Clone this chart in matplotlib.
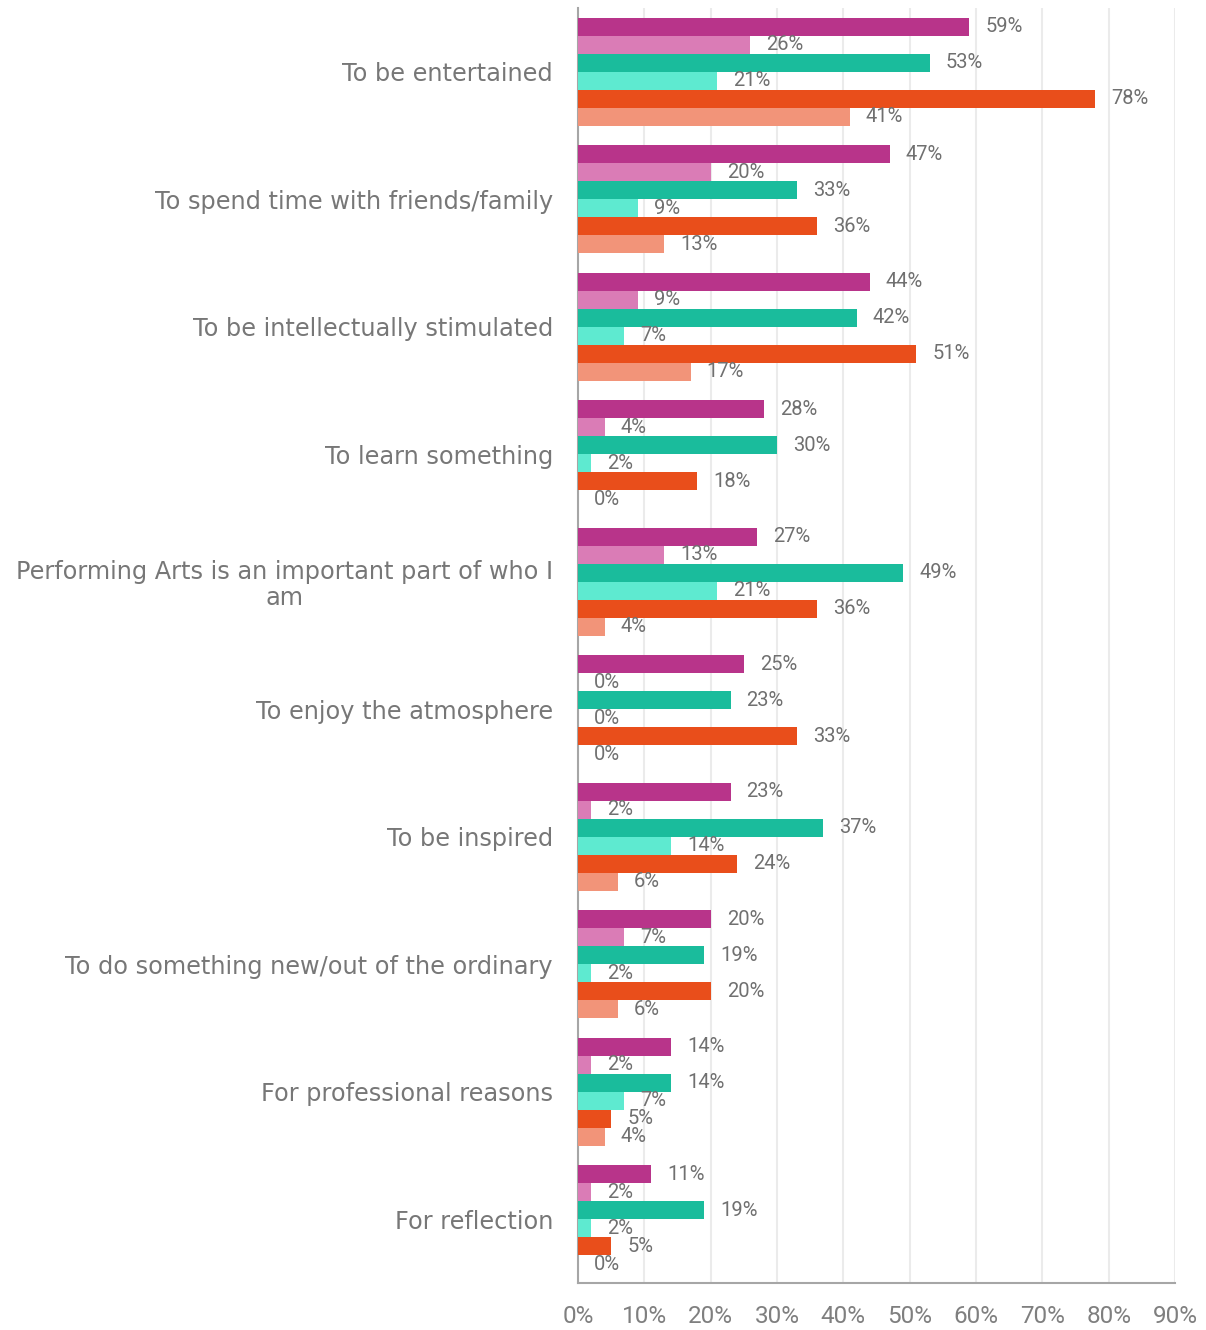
import matplotlib
matplotlib.use("Agg")
import matplotlib.pyplot as plt
import numpy as np

categories = [
    "To be entertained",
    "To spend time with friends/family",
    "To be intellectually stimulated",
    "To learn something",
    "Performing Arts is an important part of who I\nam",
    "To enjoy the atmosphere",
    "To be inspired",
    "To do something new/out of the ordinary",
    "For professional reasons",
    "For reflection",
]

series_a = [59, 47, 44, 28, 27, 25, 23, 20, 14, 11]
series_b = [26, 20, 9, 4, 13, 0, 2, 7, 2, 2]
series_c = [53, 33, 42, 30, 49, 23, 37, 19, 14, 19]
series_d = [21, 9, 7, 2, 21, 0, 14, 2, 7, 2]
series_e = [78, 36, 51, 18, 36, 33, 24, 20, 5, 5]
series_f = [41, 13, 17, 0, 4, 0, 6, 6, 4, 0]

series = [series_a, series_b, series_c, series_d, series_e, series_f]
colors = ["#B8348A", "#DA7CB6", "#1ABC9C", "#5EEAD0", "#E94E1B", "#F29479"]

xticks = [0, 10, 20, 30, 40, 50, 60, 70, 80, 90]
xtick_labels = [f"{t}%" for t in xticks]

fig = plt.figure(figsize=(12.06, 13.3), dpi=100)
ax = fig.add_axes([578 / 1206, 1 - 1283 / 1330, (1175 - 578) / 1206, (1283 - 8) / 1330])

n_series = len(series)
bar_h = 18 / 127.5
margin = (1 - n_series * bar_h) / 2
y_base = np.arange(len(categories))

narrow = ["Roboto", "DejaVu Sans"]

for j, (vals, col) in enumerate(zip(series, colors)):
    ys = y_base - 0.5 + margin + (j + 0.5) * bar_h
    bars = ax.barh(ys, vals, height=bar_h, color=col, edgecolor="none", zorder=3)
    ax.bar_label(bars, labels=[f"{v}%" for v in vals], padding=11.5,
                 fontsize=14.5, color="#707070", family=narrow)

ax.set_ylim(len(categories) - 0.5, -0.5)
ax.set_xlim(0, 90)
ax.set_yticks(y_base)

ax.set_xticks(xticks)
ax.set_xticklabels(xtick_labels, fontsize=17.5, color="#7F7F7F", family=narrow)
ax.tick_params(axis="x", length=0, pad=16)

ax.grid(axis="x", color="#EBEBEB", linewidth=1.5, zorder=0)
ax.set_axisbelow(True)
for s in ["top", "right"]:
    ax.spines[s].set_visible(False)
for s in ["left", "bottom"]:
    ax.spines[s].set_color("#A6A6A6")
    ax.spines[s].set_linewidth(1.5)

ax.set_yticklabels(categories, fontsize=17.3, color="#777777", family="DejaVu Sans",
                   ha="right", multialignment="center", linespacing=1.1)
ax.tick_params(axis="y", length=0, pad=18)

fig.savefig("out.png", dpi=100, facecolor="white")
